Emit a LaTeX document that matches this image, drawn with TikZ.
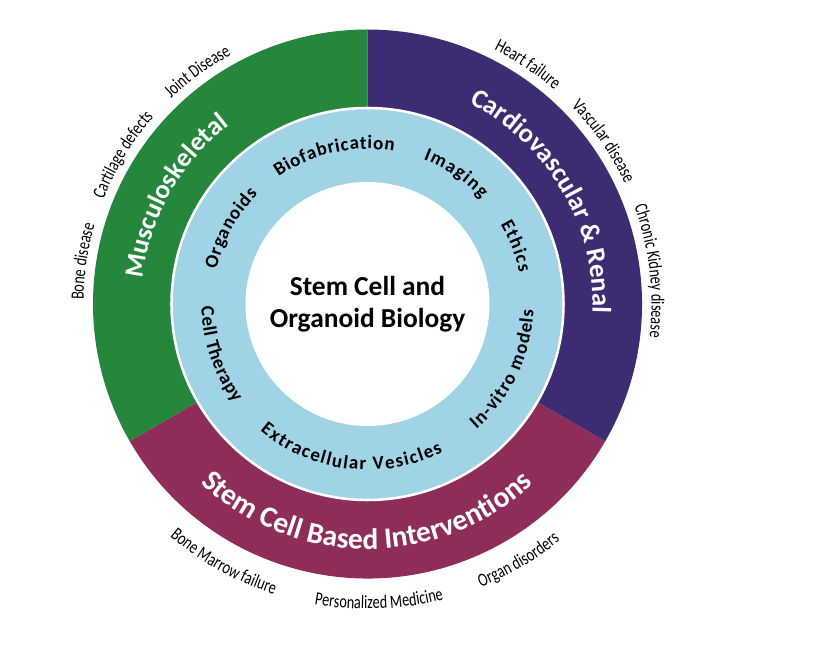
\documentclass[tikz,border=0pt]{standalone}
\usepackage{fontspec}
\setmainfont{Carlito}
\newfontfamily\condfont[FakeStretch=0.76]{Carlito}
\usetikzlibrary{decorations.text}

\definecolor{muscgreen}{HTML}{24873B}
\definecolor{cardpurple}{HTML}{3E2C72}
\definecolor{stemred}{HTML}{8F2D5A}
\definecolor{ringblue}{HTML}{A0D3E6}

\begin{document}
\begin{tikzpicture}[x=0.025cm, y=0.025cm,
  ringtitle/.style = {decorate, decoration={text along path, text align=center, text color=white, text={#1}}},
  outerlabel/.style = {decorate, decoration={text along path, text align=center, text={|\condfont\fontsize{13.3}{16}\selectfont|#1}}},
  innerlabel/.style = {decorate, decoration={text along path, text align={fit to path}, text={|\bfseries\fontsize{13.5}{16}\selectfont|#1}}}]
\useasboundingbox (-367.5,-365) rectangle (451.5,304);
\coordinate (hub) at (0,0);
\fill[muscgreen] (hub) -- (90:274.5) arc[start angle=90, end angle=210, radius=274.5] -- cycle;
\fill[stemred] (hub) -- (210:274.5) arc[start angle=210, end angle=330, radius=274.5] -- cycle;
\fill[cardpurple] (hub) -- (-30:274.5) arc[start angle=-30, end angle=90, radius=274.5] -- cycle;
\fill[ringblue, draw=white, line width=1.8pt] (hub) circle[radius=196];
\fill[white] (hub) circle[radius=122];
\node[align=center, font=\bfseries\fontsize{19.5}{23}\selectfont] (core) at (hub) {Stem Cell and\\Organoid Biology};
\path[ringtitle={|\bfseries\fontsize{19}{24}\selectfont|Musculoskeletal}] (190.6:226) arc[start angle=190.6, end angle=110.6, radius=226];
\path[ringtitle={|\bfseries\fontsize{19}{24}\selectfont|Cardiovascular {\&} Renal}] (75.5:225) arc[start angle=75.5, end angle=-14.5, radius=225];
\path[ringtitle={|\bfseries\fontsize{21}{26}\selectfont|Stem Cell Based Interventions}] (209.8:245) arc[start angle=209.8, end angle=329.8, radius=245];
\foreach \a/\lab in {171.5/Bone disease, 148.6/Cartilage defects, 126.2/Joint Disease, 56.2/Heart failure, 34.6/Vascular disease, 6.7/Chronic Kidney disease}
  \path[outerlabel/.expanded=\lab] ({\a+30}:284) arc[start angle=\a+30, end angle=\a-30, radius=284];
\foreach \a/\lab in {240.9/Bone Marrow failure, 272.2/Personalized Medicine, 300.5/Organ disorders}
  \path[outerlabel/.expanded=\lab] ({\a-30}:305) arc[start angle=\a-30, end angle=\a+30, radius=305];
\foreach \s/\e/\lab in {167/135/Organoids, 125/80.2/Biofabrication, 68.9/42.8/Imaging, 30.8/11.7/Ethics}
  \path[innerlabel/.expanded=\lab] (\s:155) arc[start angle=\s, end angle=\e, radius=155];
\foreach \s/\e/\lab in {181/216.5/Cell Therapy, 229.7/297/Extracellular Vesicles, 311/358/In-vitro models}
  \path[innerlabel/.expanded=\lab] (\s:166) arc[start angle=\s, end angle=\e, radius=166];
\end{tikzpicture}
\end{document}
